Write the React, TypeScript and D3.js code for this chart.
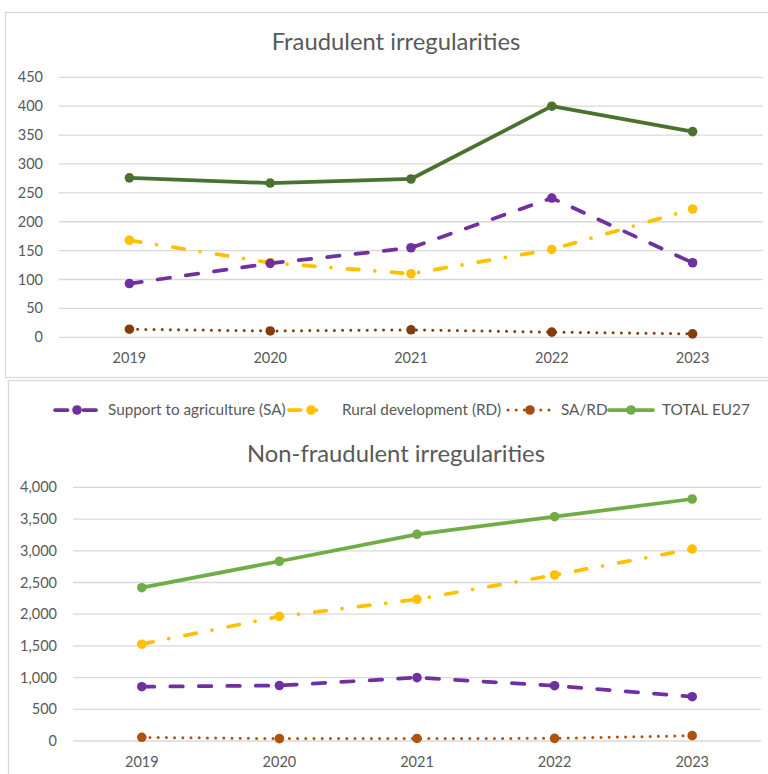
import React from 'react';
import * as d3 from 'd3';

const years = ['2019', '2020', '2021', '2022', '2023'];

// Fraudulent irregularities
const fraudSA = [93, 128, 155, 241, 129];
const fraudRD = [168, 129, 110, 152, 222];
const fraudSARD = [14, 11, 13, 9, 6];
const fraudTotal = [276, 267, 274, 400, 356];
const fraudTicks = [0, 50, 100, 150, 200, 250, 300, 350, 400, 450];

// Non-fraudulent irregularities
const nonFraudSA = [856, 875, 1000, 872, 699];
const nonFraudRD = [1527, 1965, 2235, 2618, 3028];
const nonFraudSARD = [58, 38, 40, 42, 84];
const nonFraudTotal = [2418, 2835, 3260, 3538, 3817];
const nonFraudTicks = [0, 500, 1000, 1500, 2000, 2500, 3000, 3500, 4000];

const legendLabels = ['Support to agriculture (SA)', 'Rural development (RD)', 'SA/RD', 'TOTAL EU27'];

const FONT = 'Lato, "Open Sans", sans-serif';
const TEXT = '#595959';
const GRID = '#d9d9d9';

const styles = {
  sa: { dash: '12.5 16', width: 3.75 },
  rd: { dash: '11.5 16 0 16.5', width: 3.75 },
  sard: { dash: '0 8.2', width: 3 },
  total: { dash: null, width: 3.75 },
};

type SeriesDef = { values: number[]; color: string; style: { dash: string | null; width: number } };

function Panel({ title, titleY, series, ticks, yTop, yBottom, xLeft, xRight, labelX, labelY, fmt }: any) {
  const x = d3.scaleBand<string>().domain(years).range([xLeft, xRight]);
  const y = d3.scaleLinear().domain([0, ticks[ticks.length - 1]]).range([yBottom, yTop]);
  const cx = (i: number) => (x(years[i]) as number) + x.bandwidth() / 2;
  const line = d3.line<number>()
    .x((d, i) => cx(i))
    .y(d => y(d));

  return (
    <g>
      <text x={396} y={titleY} textAnchor="middle" fontFamily={FONT} fontSize={23.8} fill={TEXT}>{title}</text>
      {ticks.map((t: number) => (
        <g key={t}>
          <line x1={xLeft} x2={xRight} y1={y(t)} y2={y(t)} stroke={GRID} strokeWidth={1.3} />
          <text x={labelX} y={y(t)} dy="0.35em" textAnchor="end" fontFamily={FONT} fontSize={14.5} fill={TEXT}>{fmt(t)}</text>
        </g>
      ))}
      {years.map((yr, i) => (
        <text key={yr} x={cx(i)} y={labelY} dy="0.35em" textAnchor="middle"
          fontFamily={FONT} fontSize={14.5} fill={TEXT}>{yr}</text>
      ))}
      {series.map((s: SeriesDef, si: number) => (
        <g key={si}>
          <path d={line(s.values) as string} fill="none" stroke={s.color} strokeWidth={s.style.width}
            strokeDasharray={s.style.dash ?? undefined} strokeLinecap="round" strokeLinejoin="round" />
          {s.values.map((v, i) => (
            <circle key={i} cx={cx(i)} cy={y(v)} r={4.8} fill={s.color} />
          ))}
        </g>
      ))}
    </g>
  );
}

export default function App() {
  const topSeries: SeriesDef[] = [
    { values: fraudSARD, color: '#843c0c', style: styles.sard },
    { values: fraudRD, color: '#ffc000', style: styles.rd },
    { values: fraudSA, color: '#7030a0', style: styles.sa },
    { values: fraudTotal, color: '#4a722e', style: styles.total },
  ];
  const bottomSeries: SeriesDef[] = [
    { values: nonFraudSARD, color: '#b0520f', style: styles.sard },
    { values: nonFraudRD, color: '#ffc000', style: styles.rd },
    { values: nonFraudSA, color: '#7030a0', style: styles.sa },
    { values: nonFraudTotal, color: '#70ad47', style: styles.total },
  ];
  const legendColors = ['#7030a0', '#ffc000', '#a54d0f', '#70ad47'];
  const legendStyles = [styles.sa, styles.rd, styles.sard, styles.total];
  const legendSym = [55, 289, 508, 609];
  const fmtTop = d3.format('d');
  const fmtBottom = d3.format(',');

  return (
    <svg width={768} height={774} style={{ position: 'absolute', left: 0, top: 0 }}>
      <rect x={0} y={0} width={768} height={774} fill="#fff" />
      <rect x={5.5} y={12.5} width={800} height={365} fill="#fff" stroke={GRID} strokeWidth={1.3} />
      <rect x={8.5} y={380.5} width={800} height={420} fill="#fff" stroke={GRID} strokeWidth={1.3} />
      <Panel title="Fraudulent irregularities" titleY={50} series={topSeries} ticks={fraudTicks}
        yTop={77.3} yBottom={337.3} xLeft={59} xRight={763} labelX={43} labelY={358} fmt={fmtTop} />
      <g>
        {legendLabels.map((lab, i) => (
          <g key={lab}>
            <line x1={legendSym[i]} x2={legendSym[i] + 44} y1={410} y2={410} stroke={legendColors[i]}
              strokeWidth={legendStyles[i].width} strokeDasharray={legendStyles[i].dash ?? undefined} strokeLinecap="round" />
            <circle cx={legendSym[i] + 22} cy={410} r={4.8} fill={legendColors[i]} />
            <text x={legendSym[i] + 53} y={410} dy="0.35em" fontFamily={FONT} fontSize={15.3} fill={TEXT}>{lab}</text>
          </g>
        ))}
      </g>
      <Panel title="Non-fraudulent irregularities" titleY={462} series={bottomSeries} ticks={nonFraudTicks}
        yTop={487.4} yBottom={741} xLeft={73} xRight={761} labelX={57} labelY={762} fmt={fmtBottom} />
    </svg>
  );
}
